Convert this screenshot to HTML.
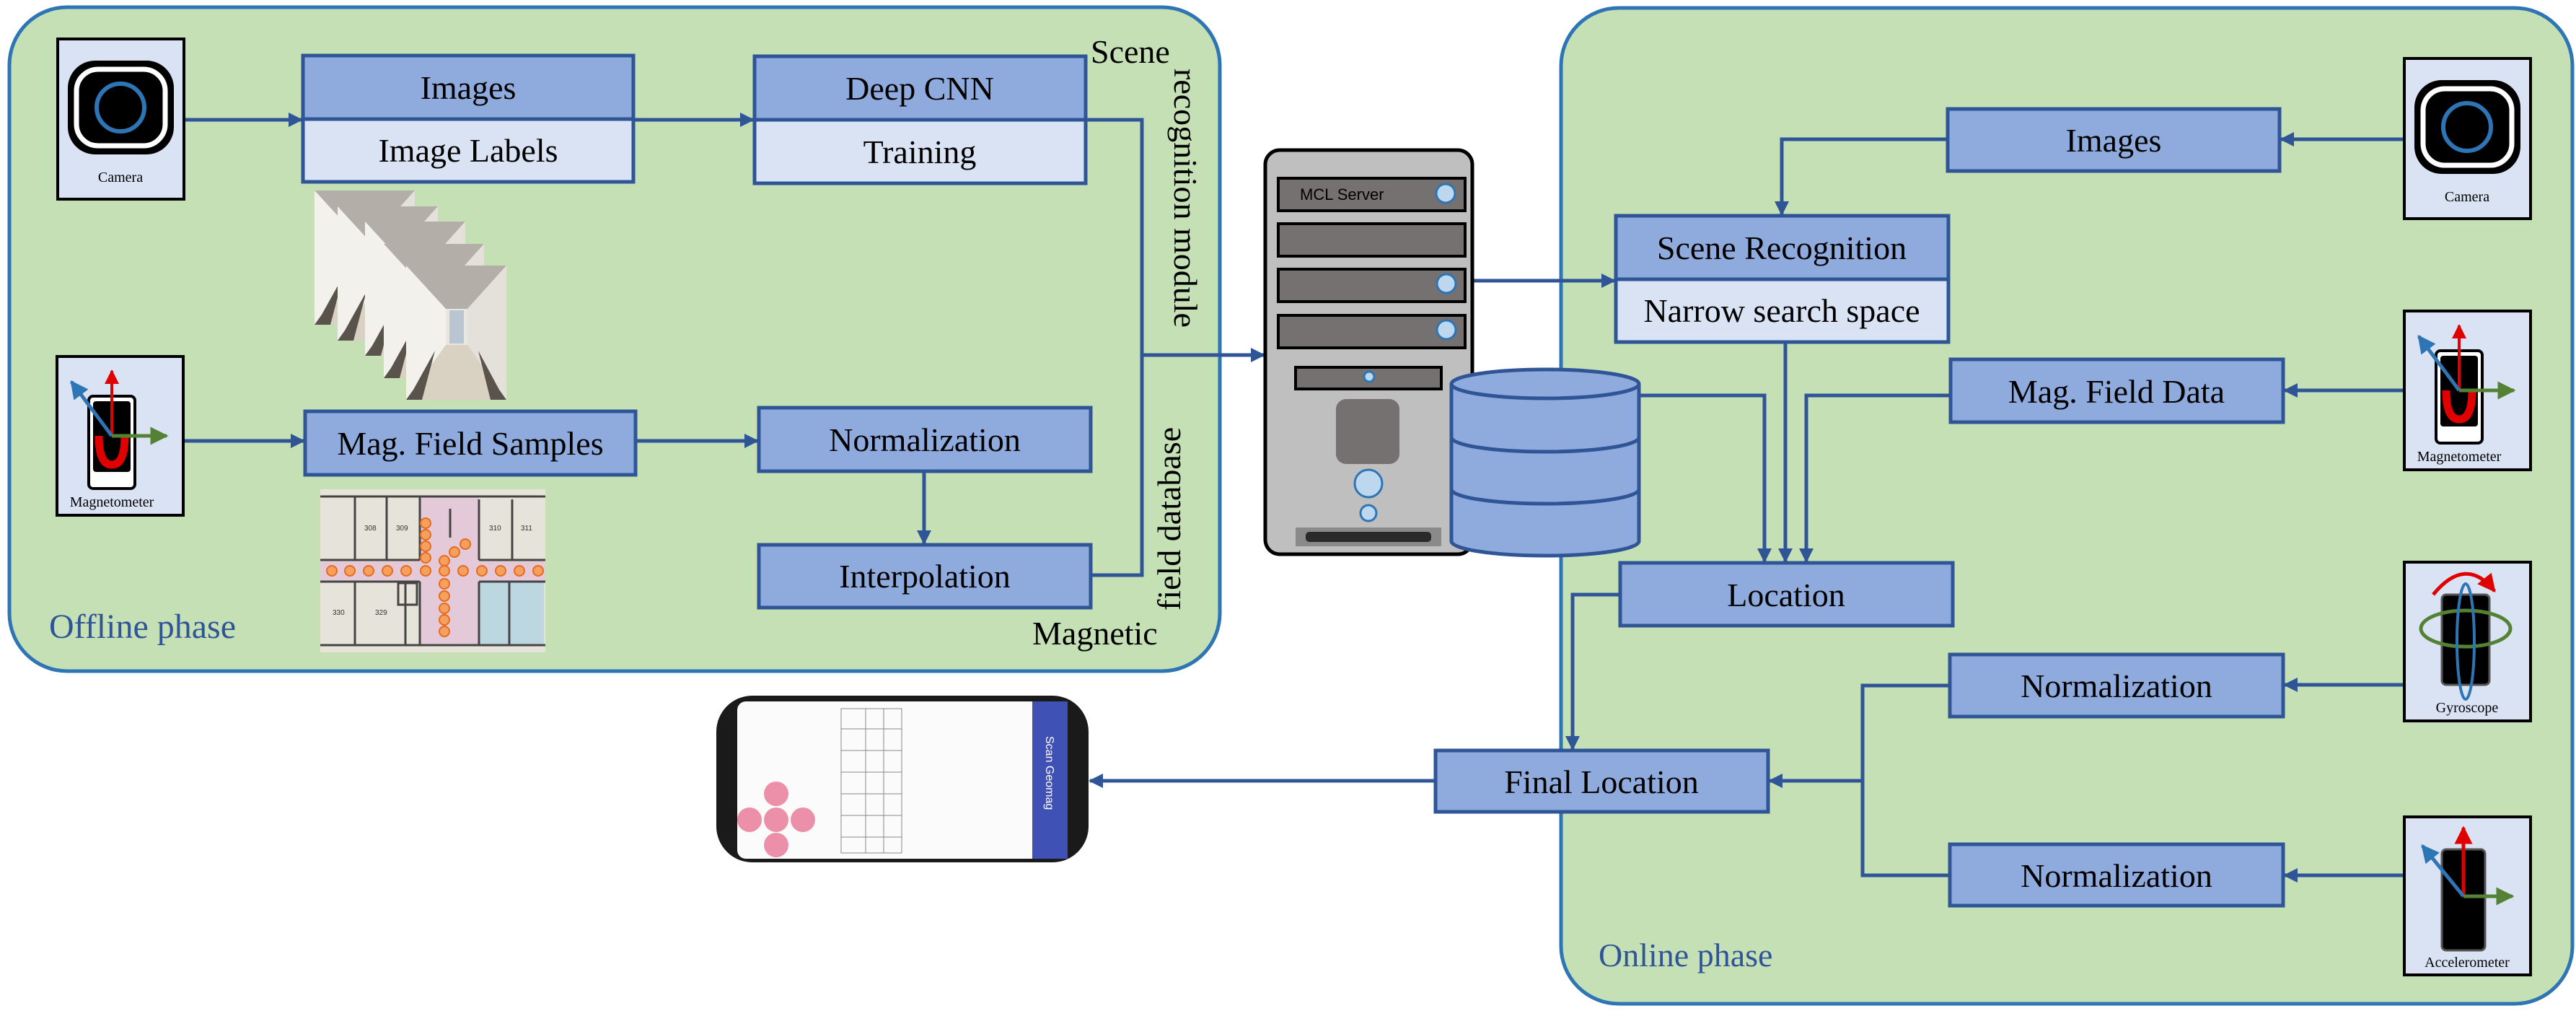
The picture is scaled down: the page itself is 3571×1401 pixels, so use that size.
<!DOCTYPE html>
<html><head><meta charset="utf-8"><style>
html,body{margin:0;padding:0;background:#fff;}
svg{display:block}
svg text{font-family:"Liberation Serif","Times New Roman","DejaVu Serif",serif !important;}
svg text.sans{font-family:"Liberation Sans","DejaVu Sans",sans-serif !important;}
</style></head><body>
<svg width="3571" height="1401" viewBox="0 0 3571 1401" xmlns="http://www.w3.org/2000/svg">
<defs>
<marker id="a" viewBox="0 0 10 10" refX="9" refY="5" markerWidth="4" markerHeight="4" orient="auto" markerUnits="strokeWidth"><path d="M0,0 L10,5 L0,10 z" fill="#2f5597"/></marker>
<marker id="r" viewBox="0 0 10 10" refX="9" refY="5" markerWidth="5" markerHeight="5" orient="auto"><path d="M0,0 L10,5 L0,10 z" fill="#e00000"/></marker>
<marker id="b" viewBox="0 0 10 10" refX="9" refY="5" markerWidth="5" markerHeight="5" orient="auto"><path d="M0,0 L10,5 L0,10 z" fill="#2e75b6"/></marker>
<marker id="g" viewBox="0 0 10 10" refX="9" refY="5" markerWidth="5" markerHeight="5" orient="auto"><path d="M0,0 L10,5 L0,10 z" fill="#548235"/></marker>
<g id="cam">
<rect x="0" y="0" width="175" height="222" fill="#dae3f3" stroke="#000" stroke-width="4"/>
<rect x="14" y="30" width="147" height="130" rx="38" fill="#000"/>
<rect x="26" y="42" width="123" height="106" rx="30" fill="none" stroke="#fff" stroke-width="7"/>
<circle cx="87" cy="95" r="33" fill="none" stroke="#2e75b6" stroke-width="6"/>
<text x="87" y="198" font-size="20" text-anchor="middle">Camera</text>
</g>
<g id="mag">
<rect x="0" y="0" width="175" height="220" fill="#dae3f3" stroke="#000" stroke-width="4"/>
<rect x="44" y="55" width="64" height="128" rx="6" fill="#fff" stroke="#000" stroke-width="4"/>
<rect x="50" y="62" width="52" height="98" rx="4" fill="#000"/>
<path d="M58,110 Q58,150 76,150 Q94,150 94,110" fill="none" stroke="#e00000" stroke-width="11"/>
<line x1="76" y1="110" x2="76" y2="20" stroke="#e00000" stroke-width="4" marker-end="url(#r)"/>
<line x1="76" y1="110" x2="20" y2="35" stroke="#2e75b6" stroke-width="5" marker-end="url(#b)"/>
<line x1="76" y1="110" x2="152" y2="110" stroke="#548235" stroke-width="5" marker-end="url(#g)"/>
<text x="76" y="208" font-size="20" text-anchor="middle">Magnetometer</text>
</g>
<g id="photo">
<rect x="0" y="0" width="139" height="186" fill="#e8e6df"/>
<polygon points="0,0 139,0 85,60 55,60" fill="#b3afa8"/>
<polygon points="0,0 55,60 55,110 0,186" fill="#f2f1ec"/>
<polygon points="139,0 85,60 85,110 139,186" fill="#e3e1da"/>
<polygon points="0,186 55,110 85,110 139,186" fill="#d9d2c2"/>
<polygon points="0,186 10,172 40,118 22,186" fill="#5a534c"/>
<polygon points="139,186 129,172 100,118 117,186" fill="#5a534c"/>
<rect x="60" y="62" width="20" height="46" fill="#b9c6d2"/>
</g>
</defs>

<rect x="13" y="10" width="1678" height="920" rx="80" fill="#c5e0b4" stroke="#2e75b6" stroke-width="5"/>
<rect x="2164" y="11" width="1402" height="1380" rx="80" fill="#c5e0b4" stroke="#2e75b6" stroke-width="5"/>

<g stroke="#2f5597" stroke-width="5" fill="none">
<line x1="255" y1="166" x2="418" y2="166" marker-end="url(#a)"/>
<line x1="878" y1="166" x2="1044" y2="166" marker-end="url(#a)"/>
<polyline points="1505,166 1583,166 1583,797 1512,797"/>
<line x1="1583" y1="492" x2="1752" y2="492" marker-end="url(#a)"/>
<line x1="254" y1="611" x2="421" y2="611" marker-end="url(#a)"/>
<line x1="881" y1="611" x2="1050" y2="611" marker-end="url(#a)"/>
<line x1="1281" y1="653" x2="1281" y2="753" marker-end="url(#a)"/>
<line x1="3333" y1="193" x2="3162" y2="193" marker-end="url(#a)"/>
<polyline points="2700,193 2470,193 2470,297" marker-end="url(#a)"/>
<line x1="2042" y1="389" x2="2238" y2="389" marker-end="url(#a)"/>
<line x1="2475" y1="474" x2="2475" y2="778" marker-end="url(#a)"/>
<polyline points="2274,548 2446,548 2446,778" marker-end="url(#a)"/>
<polyline points="2704,548 2504,548 2504,778" marker-end="url(#a)"/>
<line x1="3333" y1="541" x2="3167" y2="541" marker-end="url(#a)"/>
<polyline points="2246,824 2180,824 2180,1038" marker-end="url(#a)"/>
<line x1="1990" y1="1082" x2="1511" y2="1082" marker-end="url(#a)"/>
<polyline points="2703,950 2582,950 2582,1213 2703,1213"/>
<line x1="2582" y1="1082" x2="2453" y2="1082" marker-end="url(#a)"/>
<line x1="3333" y1="949" x2="3167" y2="949" marker-end="url(#a)"/>
<line x1="3333" y1="1213" x2="3167" y2="1213" marker-end="url(#a)"/>
</g>

<g stroke="#2f5597" stroke-width="5">
<rect x="420" y="77" width="458" height="88" fill="#8faadc"/>
<rect x="420" y="165" width="458" height="87" fill="#dae3f3"/>
<rect x="1046" y="78" width="459" height="88" fill="#8faadc"/>
<rect x="1046" y="166" width="459" height="88" fill="#dae3f3"/>
<rect x="423" y="570" width="458" height="88" fill="#8faadc"/>
<rect x="1052" y="565" width="460" height="88" fill="#8faadc"/>
<rect x="1052" y="755" width="460" height="87" fill="#8faadc"/>
<rect x="2700" y="151" width="460" height="86" fill="#8faadc"/>
<rect x="2240" y="299" width="461" height="88" fill="#8faadc"/>
<rect x="2240" y="387" width="461" height="87" fill="#dae3f3"/>
<rect x="2704" y="498" width="461" height="87" fill="#8faadc"/>
<rect x="2246" y="780" width="461" height="87" fill="#8faadc"/>
<rect x="2703" y="907" width="462" height="86" fill="#8faadc"/>
<rect x="1990" y="1040" width="461" height="85" fill="#8faadc"/>
<rect x="2703" y="1170" width="462" height="85" fill="#8faadc"/>
</g>

<g font-size="46" text-anchor="middle" fill="#000">
<text x="649" y="137">Images</text>
<text x="649" y="224">Image Labels</text>
<text x="1275" y="138">Deep CNN</text>
<text x="1275" y="226">Training</text>
<text x="652" y="630">Mag. Field Samples</text>
<text x="1282" y="625">Normalization</text>
<text x="1282" y="814">Interpolation</text>
<text x="2930" y="210">Images</text>
<text x="2470" y="359">Scene Recognition</text>
<text x="2470" y="446">Narrow search space</text>
<text x="2934" y="558">Mag. Field Data</text>
<text x="2476" y="840">Location</text>
<text x="2934" y="966">Normalization</text>
<text x="2220" y="1099">Final Location</text>
<text x="2934" y="1229">Normalization</text>
</g>

<g font-size="46" fill="#000">
<text x="1512" y="87">Scene</text>
<text x="1431" y="893">Magnetic</text>
<text transform="translate(1628,95) rotate(90)">recognition module</text>
<text transform="translate(1636,846) rotate(-90)">field database</text>
</g>
<text x="68" y="884" font-size="48" fill="#2f5597">Offline phase</text>
<text x="2216" y="1339" font-size="46" fill="#2f5597">Online phase</text>

<use href="#cam" x="80" y="54"/>
<use href="#mag" x="79" y="494"/>
<use href="#cam" x="3333" y="81"/>
<use href="#mag" x="3333" y="431"/>
<g transform="translate(3333,779)">
<rect x="0" y="0" width="175" height="220" fill="#dae3f3" stroke="#000" stroke-width="4"/>
<rect x="52" y="45" width="66" height="125" rx="6" fill="#000" stroke="#555" stroke-width="3"/>
<path d="M40,45 Q85,-10 125,40" fill="none" stroke="#e00000" stroke-width="5" marker-end="url(#r)"/>
<ellipse cx="85" cy="92" rx="62" ry="25" fill="none" stroke="#548235" stroke-width="5"/>
<ellipse cx="85" cy="110" rx="12" ry="80" fill="none" stroke="#2e75b6" stroke-width="4"/>
<text x="87" y="208" font-size="20" text-anchor="middle">Gyroscope</text>
</g>
<g transform="translate(3333,1132)">
<rect x="0" y="0" width="175" height="219" fill="#dae3f3" stroke="#000" stroke-width="4"/>
<rect x="52" y="45" width="60" height="140" rx="6" fill="#000" stroke="#555" stroke-width="3"/>
<line x1="82" y1="110" x2="82" y2="15" stroke="#e00000" stroke-width="5" marker-end="url(#r)"/>
<line x1="82" y1="110" x2="25" y2="40" stroke="#2e75b6" stroke-width="5" marker-end="url(#b)"/>
<line x1="82" y1="110" x2="150" y2="110" stroke="#548235" stroke-width="5" marker-end="url(#g)"/>
<text x="87" y="208" font-size="20" text-anchor="middle">Accelerometer</text>
</g>

<use href="#photo" x="436" y="264"/>
<use href="#photo" x="468" y="286"/>
<use href="#photo" x="506" y="307"/>
<use href="#photo" x="532" y="338"/>
<use href="#photo" x="563" y="368"/>

<!-- floorplan -->
<g>
<rect x="444" y="678" width="312" height="226" fill="#e6e3da"/>
<rect x="444" y="778" width="312" height="28" fill="#e4c9d8"/>
<rect x="582" y="688" width="82" height="206" fill="#e4c9d8"/>
<rect x="664" y="806" width="90" height="88" fill="#bcd7e0"/>
<g fill="none" stroke="#444" stroke-width="3">
<line x1="444" y1="688" x2="756" y2="688"/>
<line x1="492" y1="688" x2="492" y2="776"/><line x1="536" y1="688" x2="536" y2="776"/><line x1="582" y1="688" x2="582" y2="776"/>
<line x1="624" y1="705" x2="624" y2="745"/><line x1="664" y1="692" x2="664" y2="776"/><line x1="710" y1="692" x2="710" y2="776"/>
<line x1="444" y1="776" x2="582" y2="776"/><line x1="664" y1="776" x2="756" y2="776"/>
<line x1="444" y1="806" x2="582" y2="806"/><line x1="664" y1="806" x2="756" y2="806"/>
<line x1="492" y1="806" x2="492" y2="894"/><line x1="562" y1="806" x2="562" y2="894"/><line x1="582" y1="806" x2="582" y2="894"/>
<line x1="664" y1="806" x2="664" y2="894"/><line x1="706" y1="806" x2="706" y2="894"/>
<line x1="444" y1="894" x2="756" y2="894"/>
<rect x="552" y="808" width="26" height="30"/>
</g>
<g font-size="10" fill="#333">
<text class="sans" x="505" y="735">308</text><text class="sans" x="549" y="735">309</text><text class="sans" x="678" y="735">310</text><text class="sans" x="722" y="735">311</text>
<text class="sans" x="461" y="852">330</text><text class="sans" x="520" y="852">329</text>
</g>
<g fill="#f4a060" stroke="#e86b1c" stroke-width="2">
<circle cx="590" cy="725" r="7"/><circle cx="590" cy="741" r="7"/><circle cx="590" cy="757" r="7"/><circle cx="590" cy="773" r="7"/>
<circle cx="460" cy="791" r="7"/><circle cx="485" cy="791" r="7"/><circle cx="511" cy="791" r="7"/><circle cx="537" cy="791" r="7"/><circle cx="563" cy="791" r="7"/><circle cx="590" cy="791" r="7"/><circle cx="616" cy="791" r="7"/><circle cx="642" cy="791" r="7"/><circle cx="668" cy="791" r="7"/><circle cx="694" cy="791" r="7"/><circle cx="720" cy="791" r="7"/><circle cx="746" cy="791" r="7"/>
<circle cx="616" cy="777" r="7"/><circle cx="630" cy="765" r="7"/><circle cx="645" cy="754" r="7"/>
<circle cx="616" cy="809" r="7"/><circle cx="616" cy="826" r="7"/><circle cx="616" cy="843" r="7"/><circle cx="616" cy="859" r="7"/><circle cx="616" cy="875" r="7"/>
</g>
</g>

<g>
<rect x="1754" y="208" width="287" height="560" rx="20" fill="#bfbfbf" stroke="#000" stroke-width="5"/>
<g fill="#767171" stroke="#000" stroke-width="4">
<rect x="1772" y="247" width="259" height="45"/>
<rect x="1772" y="310" width="259" height="45"/>
<rect x="1772" y="373" width="259" height="45"/>
<rect x="1772" y="437" width="259" height="45"/>
<rect x="1796" y="509" width="202" height="30"/>
</g>
<text class="sans" x="1802" y="277" font-size="22" fill="#000">MCL Server</text>
<g fill="#bdd7ee" stroke="#2e75b6" stroke-width="3">
<circle cx="2004" cy="268" r="13"/><circle cx="2005" cy="393" r="13"/><circle cx="2005" cy="457" r="13"/><circle cx="1898" cy="522" r="7"/>
<circle cx="1897" cy="670" r="19"/><circle cx="1897" cy="711" r="11"/>
</g>
<rect x="1852" y="553" width="88" height="90" rx="14" fill="#767171"/>
<rect x="1796" y="731" width="202" height="26" fill="#8a8a8a"/>
<rect x="1810" y="737" width="174" height="14" rx="5" fill="#2a2a2a"/>
</g>
<g fill="#8faadc" stroke="#2f5597" stroke-width="5">
<path d="M2012,532 L2012,750 A130,20 0 0 0 2272,750 L2272,532"/>
<path d="M2012,606 A130,20 0 0 0 2272,606" fill="none"/>
<path d="M2012,678 A130,20 0 0 0 2272,678" fill="none"/>
<ellipse cx="2142" cy="532" rx="130" ry="20"/>
</g>

<g>
<rect x="993" y="964" width="516" height="231" rx="50" fill="#1a1a1a"/>
<rect x="1022" y="972" width="458" height="218" rx="12" fill="#fbfbfb"/>
<rect x="1431" y="972" width="49" height="218" fill="#3f51b5"/>
<text class="sans" transform="translate(1450,1020) rotate(90)" font-size="16" fill="#fff">Scan Geomag</text>
<g fill="none" stroke="#888" stroke-width="1">
<rect x="1166" y="982" width="84" height="200"/>
<line x1="1166" y1="1010" x2="1250" y2="1010"/><line x1="1166" y1="1040" x2="1250" y2="1040"/><line x1="1166" y1="1070" x2="1250" y2="1070"/><line x1="1166" y1="1100" x2="1250" y2="1100"/><line x1="1166" y1="1130" x2="1250" y2="1130"/><line x1="1166" y1="1160" x2="1250" y2="1160"/>
<line x1="1200" y1="982" x2="1200" y2="1182"/><line x1="1225" y1="982" x2="1225" y2="1182"/>
</g>
<g fill="#ec8fa9">
<circle cx="1076" cy="1100" r="17"/><circle cx="1039" cy="1136" r="17"/><circle cx="1076" cy="1136" r="17"/><circle cx="1113" cy="1136" r="17"/><circle cx="1076" cy="1171" r="17"/>
</g>
</g>
</svg>
</body></html>
